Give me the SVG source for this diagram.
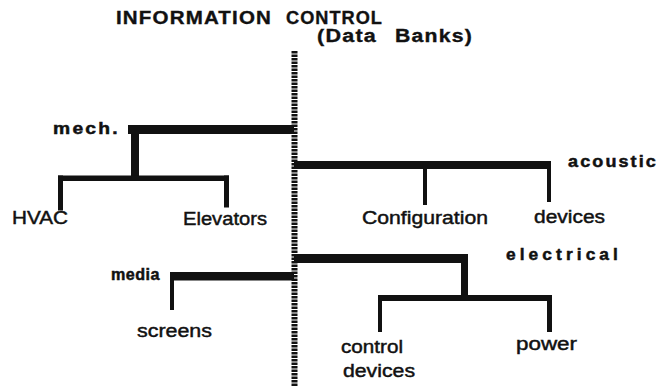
<svg xmlns="http://www.w3.org/2000/svg" width="668" height="387" viewBox="0 0 668 387">
  <style>
    .bold { font-family: "Liberation Sans", Arial, sans-serif; font-weight: bold; font-size: 17px; fill: #111; stroke: #111; stroke-width: 0.5; letter-spacing: 2px; }
    .head { font-family: "Liberation Sans", Arial, sans-serif; font-weight: bold; font-size: 17.5px; fill: #111; stroke: #111; stroke-width: 0.35; letter-spacing: 1px; }
    .reg  { font-family: "Liberation Sans", Arial, sans-serif; font-size: 18px; fill: #111; stroke: #111; stroke-width: 0.45; }
    .bar  { fill: #111; }
    .spine { stroke: #111; stroke-width: 6; stroke-dasharray: 2.4 1.1; fill: none; }
  </style>
  <rect width="668" height="387" fill="#fff"/>

  <!-- title -->
  <g id="title">
    <text class="head" x="116" y="23.5" textLength="156" lengthAdjust="spacingAndGlyphs">INFORMATION</text>
    <text class="head" x="286" y="23.5" textLength="97" lengthAdjust="spacingAndGlyphs">CONTROL</text>
  </g>

  <!-- central data-bank spine -->
  <g id="data-banks">
    <line class="spine" x1="294.5" y1="51" x2="294.5" y2="387"/>
    <text class="head" x="317" y="42" textLength="60" lengthAdjust="spacingAndGlyphs">(Data</text>
    <text class="head" x="395" y="42" textLength="78" lengthAdjust="spacingAndGlyphs">Banks)</text>
  </g>

  <!-- branch bars -->
  <g id="connectors">
    <!-- mechanical -->
    <rect class="bar" x="128" y="125" width="166" height="9"/>
    <rect class="bar" x="131" y="125" width="8" height="54"/>
    <rect class="bar" x="58" y="175.5" width="171" height="5.5"/>
    <rect class="bar" x="58" y="175.5" width="5" height="35"/>
    <rect class="bar" x="224" y="175.5" width="5" height="32"/>
    <!-- acoustic -->
    <rect class="bar" x="294" y="161" width="257" height="8"/>
    <rect class="bar" x="423" y="161" width="4" height="44"/>
    <rect class="bar" x="547" y="161" width="4" height="41"/>
    <!-- media -->
    <rect class="bar" x="170" y="272" width="124" height="8.5"/>
    <rect class="bar" x="170" y="272" width="4" height="38"/>
    <!-- electrical -->
    <rect class="bar" x="294" y="254" width="174" height="9"/>
    <rect class="bar" x="461" y="254" width="7" height="47"/>
    <rect class="bar" x="378" y="295" width="174" height="6"/>
    <rect class="bar" x="378" y="295" width="4" height="37"/>
    <rect class="bar" x="547" y="295" width="5" height="37"/>
  </g>

  <g id="mech"><text class="bold" x="53" y="134" textLength="67" lengthAdjust="spacingAndGlyphs">mech.</text></g>
  <g id="hvac"><text class="reg" x="12" y="224" textLength="56" lengthAdjust="spacingAndGlyphs">HVAC</text></g>
  <g id="elevators"><text class="reg" x="183" y="225" textLength="84" lengthAdjust="spacingAndGlyphs">Elevators</text></g>

  <g id="acoustic"><text class="bold" x="568" y="167" textLength="90" lengthAdjust="spacingAndGlyphs">acoustic</text></g>
  <g id="configuration"><text class="reg" x="362" y="224" textLength="126" lengthAdjust="spacingAndGlyphs">Configuration</text></g>
  <g id="acoustic-devices"><text class="reg" x="534" y="223" textLength="71" lengthAdjust="spacingAndGlyphs">devices</text></g>

  <g id="media"><text class="bold" x="111" y="280" textLength="49" lengthAdjust="spacingAndGlyphs" style="letter-spacing:0.5px">media</text></g>
  <g id="screens"><text class="reg" x="137" y="337" textLength="75" lengthAdjust="spacingAndGlyphs">screens</text></g>

  <g id="electrical"><text class="bold" x="506" y="260" textLength="116" lengthAdjust="spacingAndGlyphs" style="letter-spacing:4px">electrical</text></g>
  <g id="control-devices">
    <text class="reg" x="341" y="353" textLength="62" lengthAdjust="spacingAndGlyphs">control</text>
    <text class="reg" x="343" y="377" textLength="72" lengthAdjust="spacingAndGlyphs">devices</text>
  </g>
  <g id="power"><text class="reg" x="516" y="350" textLength="61" lengthAdjust="spacingAndGlyphs">power</text></g>
</svg>
